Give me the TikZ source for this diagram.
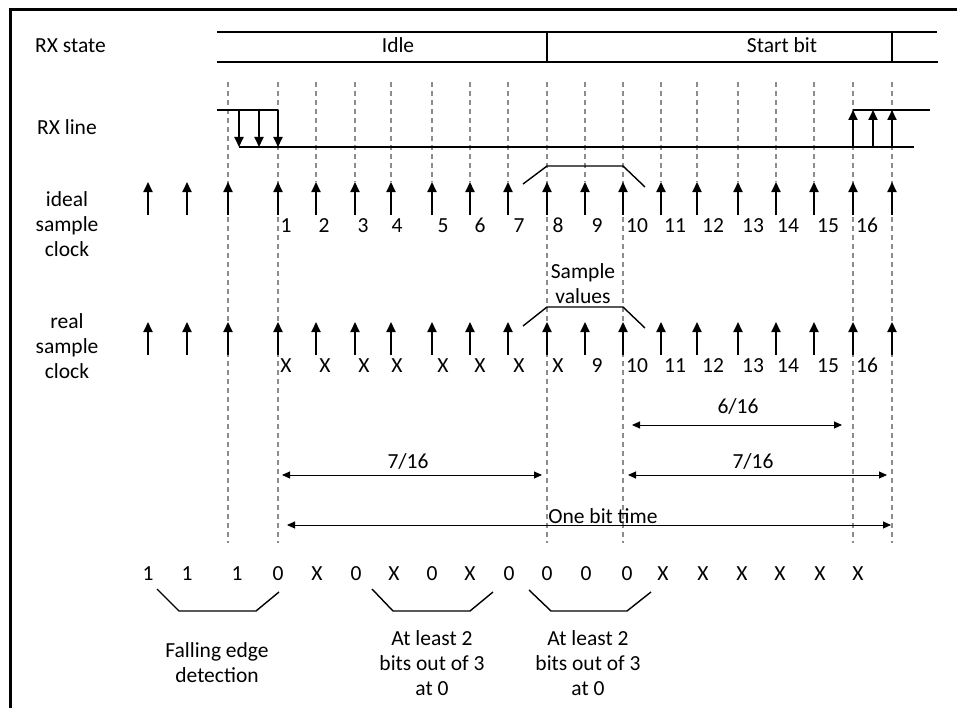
\documentclass[tikz,border=0pt]{standalone}
\usepackage{fontspec}
\setmainfont{Carlito}
\usetikzlibrary{arrows.meta}
\begin{document}
\begin{tikzpicture}[x=1bp,y=-1bp,
  txt/.style={inner sep=0pt,font=\fontsize{21.5bp}{25bp}\selectfont},
  mline/.style={txt,align=center},
  frame/.style={line width=3bp},
  wire/.style={line width=1.4bp},
  guide/.style={draw=black!45,line width=1.1bp,dash pattern=on 5bp off 4bp},
  clk/.style={line width=1.8bp,-{Triangle[width=9bp,length=10bp]}},
  dim/.style={line width=0.9bp,{Triangle[width=7bp,length=8bp]}-{Triangle[width=7bp,length=8bp]}},
  brk/.style={line width=1.4bp}]
\useasboundingbox (0,0) rectangle (957,708);
\fill[white] (0,0) rectangle (957,708);
\draw[frame] (10,708) -- (10,10) -- (957,10);

% guides
\foreach \x in {228,278,547,623,853,892} \draw[guide] (\x,82) -- (\x,543);
\foreach \x in {316,355,391,432,470,508,585,661,697,738,776,814} \draw[guide] (\x,82) -- (\x,182);

% RX state
\node[txt,anchor=base west] (rxs) at (35,53) {RX state};
\draw[wire] (217,32) -- (937,32);
\draw[wire] (217,62) -- (938,62);
\draw[wire] (547,32) -- (547,62);
\draw[wire] (892,32) -- (892,62);
\node[txt,anchor=base] (idle) at (398,53) {Idle};
\node[txt,anchor=base] (start) at (782,53) {Start bit};

% RX line
\node[txt,anchor=base west] (rxl) at (37,135) {RX line};
\draw[wire] (217,110) -- (278,110);
\draw[wire] (239,147) -- (914,147);
\foreach \x in {239,259,278} \draw[clk] (\x,110) -- (\x,147);
\draw[wire] (853,110) -- (930,110);
\foreach \x in {853,873,892} \draw[clk] (\x,147) -- (\x,110);

% clocks
\node[mline] (ideal) at (67,224) {ideal\\sample\\clock};
\node[mline] (real) at (67,346) {real\\sample\\clock};
\foreach \x in {148,187,228,278,316,355,391,432,470,508,547,585,623,661,697,738,776,814,853,892} {
  \draw[clk] (\x,215) -- (\x,182);
  \draw[clk] (\x,355) -- (\x,322);
}
\foreach \x/\l [count=\i] in {286/1,324/2,363/3,397/4,443/5,480/6,519/7,558/8,597/9,637/10,675/11,713/12,753/13,788/14,828/15,867/16}
  \node[txt,anchor=base] (i\i) at (\x,232) {\l};
\foreach \x/\l [count=\i] in {286/X,325/X,364/X,397/X,443/X,480/X,519/X,558/X,597/9,637/10,675/11,713/12,753/13,788/14,828/15,867/16}
  \node[txt,anchor=base] (r\i) at (\x,372) {\l};

% sample value brackets
\draw[brk] (523,184) -- (547,166) -- (623,166) -- (645,187);
\draw[brk] (523,326) -- (547,307) -- (623,307) -- (645,328);
\node[mline] (sv) at (583,284) {Sample\\values};

% dimensions
\coordinate (d1a) at (632,425); \coordinate (d1b) at (842,425);
\draw[dim] (d1a) -- (d1b);
\node[txt,anchor=base] (t616) at (738,413) {6/16};
\coordinate (d2a) at (282,475); \coordinate (d2b) at (542,475);
\draw[dim] (d2a) -- (d2b);
\node[txt,anchor=base] (t716a) at (408,468) {7/16};
\coordinate (d3a) at (628,475); \coordinate (d3b) at (887,475);
\draw[dim] (d3a) -- (d3b);
\node[txt,anchor=base] (t716b) at (753,468) {7/16};
\coordinate (d4a) at (287,525); \coordinate (d4b) at (891,525);
\draw[dim] (d4a) -- (d4b);
\node[txt,anchor=base] (obt) at (603,523) {One bit time};

% bit values
\foreach \x/\l [count=\i] in {148/1,187/1,237/1,278/0,317/X,356/0,394/X,432/0,470/X,509/0,547/0,586/0,627/0,663/X,703/X,742/X,780/X,820/X,858/X}
  \node[txt,anchor=base] (b\i) at (\x,580) {\l};

% bottom brackets
\draw[brk] (157,589) -- (179,611) -- (256,611) -- (279,592);
\draw[brk] (372,589) -- (393,611) -- (470,611) -- (493,592);
\draw[brk] (529,590) -- (551,611) -- (627,611) -- (651,592);
\node[mline] (fed) at (217,663) {Falling edge\\detection};
\node[mline] (al1) at (432,663) {At least 2\\bits out of 3\\at 0};
\node[mline] (al2) at (588,663) {At least 2\\bits out of 3\\at 0};
\end{tikzpicture}
\end{document}
